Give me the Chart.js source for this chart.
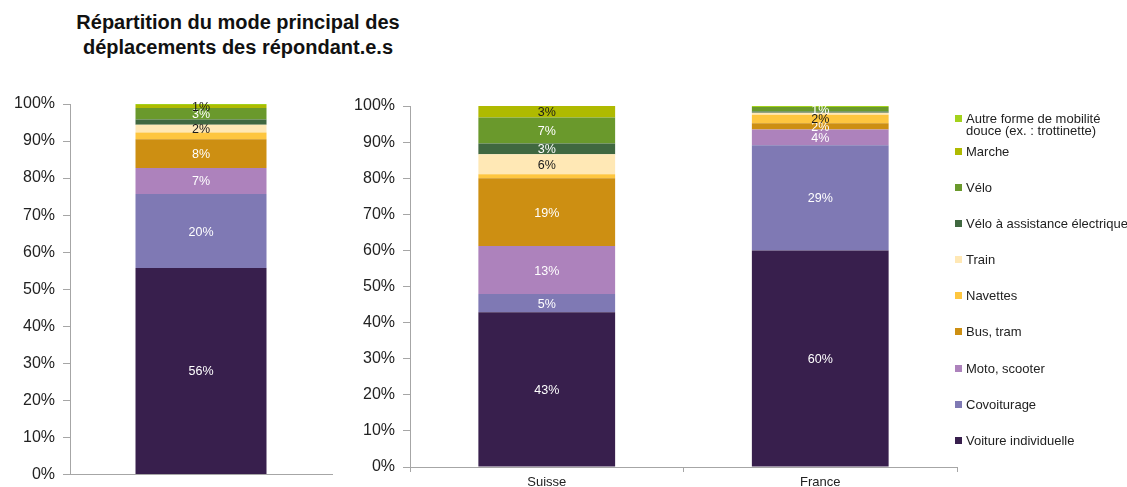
<!DOCTYPE html>
<html>
<head>
<meta charset="utf-8">
<script src="https://cdn.jsdelivr.net/npm/chart.js@4.4.1/dist/chart.umd.min.js"></script>
<style>
  body { margin: 0; background: #fff; width: 1127px; height: 487px; overflow: hidden; position: relative; font-family: "Liberation Sans", Arial, sans-serif; }
  #title { position: absolute; left: 38px; top: 10px; width: 400px; text-align: center; font-weight: bold; font-size: 20px; line-height: 25px; color: #111; }
  #leftWrap { position: absolute; left: 0; top: 0; }
  #rightWrap { position: absolute; left: 340px; top: 0; }
  #legend { position: absolute; left: 955px; top: 0; width: 172px; height: 487px; }
  .item { position: absolute; left: 0; font-size: 13px; line-height: 12px; color: #222; white-space: pre; padding-left: 11px; }
  .item span { position: absolute; left: 0; top: 2px; width: 7px; height: 7px; }
</style>
</head>
<body>
<div id="title">Répartition du mode principal des<br>déplacements des répondant.e.s</div>
<!-- left canvas a bit taller than the window: the y label overflow pad (17.6px) sits below it -->
<div id="leftWrap"><canvas id="leftChart" width="345" height="492"></canvas></div>
<div id="rightWrap"><canvas id="rightChart" width="630" height="487"></canvas></div>
<div id="legend"></div>

<script>
// -------------------- DATA --------------------
// series, stacked from the bottom up
const seriesNames = [
    'Voiture individuelle',
    'Covoiturage',
    'Moto, scooter',
    'Bus, tram',
    'Navettes',
    'Train',
    'Vélo à assistance électrique',
    'Vélo',
    'Marche',
    'Autre forme de mobilité\ndouce (ex. : trottinette)'
];
const seriesColors = ['#381f4d', '#7f79b4', '#ad82bc', '#cd8f12', '#fec63f', '#ffe8b5', '#406840', '#6a992c', '#afba00', '#a3d21c'];
const labelColors = ['#fff', '#fff', '#fff', '#fff', '#1a1a1a', '#1a1a1a', '#fff', '#fff', '#1a1a1a', '#fff'];

// left panel (single bar, no category label)
const leftCategories = [''];
const leftValues = [55.7, 20.0, 7.0, 7.8, 1.8, 2.1, 1.4, 3.1, 0.8, 0.3];
const leftHidden = ['Navettes', 'Vélo à assistance électrique', 'Autre'];

// right panel
const rightCategories = ['Suisse', 'France'];
const voiture   = [42.9, 60.0];
const covoit    = [5.0, 29.1];
const moto      = [13.3, 4.4];
const bus       = [18.8, 1.7];
const navettes  = [1.1, 2.4];
const train     = [5.5, 0.5];
const vae       = [3.0, 0.4];
const velo      = [7.2, 1.2];
const marche    = [3.2, 0.0];
const autre     = [0.0, 0.3];
const rightValues = [voiture, covoit, moto, bus, navettes, train, vae, velo, marche, autre];
// labels not printed on the original, per category
const rightHidden = [['Navettes', 'Autre'], ['Train', 'Vélo à assistance électrique', 'Marche', 'Autre']];

const yTicks = [0, 10, 20, 30, 40, 50, 60, 70, 80, 90, 100];

const FONT = '"Liberation Sans", Arial, sans-serif';
const AXIS = '#a6a6a6';

function isHidden(name, list) {
    return list.some(h => name === h || name.startsWith(h));
}

// -------------------- SEGMENT LABELS --------------------
const segmentLabels = {
    id: 'segmentLabels',
    afterDatasetsDraw(chart, args, opts) {
        const ctx = chart.ctx;
        ctx.save();
        ctx.font = '12.5px ' + FONT;
        ctx.textAlign = 'center';
        ctx.textBaseline = 'middle';
        chart.data.datasets.forEach((ds, i) => {
            chart.getDatasetMeta(i).data.forEach((bar, j) => {
                const v = ds.data[j];
                if (!v || isHidden(seriesNames[i], opts.hidden(j))) return;
                ctx.fillStyle = labelColors[i];
                ctx.fillText(Math.round(v) + '%', bar.x, (bar.y + bar.base) / 2 + 1);
            });
        });
        ctx.restore();
    }
};

function makeDatasets(getData) {
    return seriesNames.map((name, i) => ({
        label: name,
        data: getData(i),
        backgroundColor: seriesColors[i],
        borderWidth: 0,
        barPercentage: 0.5,
        categoryPercentage: 1
    }));
}

function yScale() {
    return {
        stacked: true,
        min: 0, max: 100,
        afterBuildTicks: s => { s.ticks = yTicks.map(v => ({ value: v })); },
        ticks: { callback: v => v + '%', font: { size: 16, family: FONT }, color: '#222', padding: 8 },
        grid: { drawOnChartArea: false, tickLength: 7, color: AXIS },
        border: { color: AXIS },
        afterFit: s => { s.width = 70; }
    };
}

// -------------------- LEFT CHART --------------------
new Chart(document.getElementById('leftChart'), {
    type: 'bar',
    data: { labels: leftCategories, datasets: makeDatasets(i => [leftValues[i]]) },
    options: {
        responsive: false,
        animation: false,
        layout: { padding: { top: 104, right: 13, bottom: 0, left: 0 } },
        plugins: { legend: { display: false }, tooltip: { enabled: false }, segmentLabels: { hidden: () => leftHidden } },
        scales: {
            x: {
                stacked: true,
                grid: { display: false },
                border: { color: AXIS },
                ticks: { display: false },
                afterFit: s => { s.height = 2; }
            },
            y: yScale()
        }
    },
    plugins: [segmentLabels]
});

// -------------------- RIGHT CHART --------------------
new Chart(document.getElementById('rightChart'), {
    type: 'bar',
    data: { labels: rightCategories, datasets: makeDatasets(i => rightValues[i]) },
    options: {
        responsive: false,
        animation: false,
        layout: { padding: { top: 106, right: 13, bottom: 0, left: 0 } },
        plugins: { legend: { display: false }, tooltip: { enabled: false }, segmentLabels: { hidden: j => rightHidden[j] } },
        scales: {
            x: {
                stacked: true,
                grid: { drawOnChartArea: false, tickLength: 5, color: AXIS },
                border: { color: AXIS },
                ticks: { font: { size: 13, family: FONT }, color: '#222', padding: 3 },
                afterFit: s => { s.height = 20; }
            },
            y: yScale()
        }
    },
    plugins: [segmentLabels]
});

// -------------------- LEGEND --------------------
// top item first, as in the original (reverse of stacking order)
const legend = document.getElementById('legend');
const legendTops = [113, 146, 182, 218, 254, 290, 326, 363, 399, 435];
seriesNames.slice().reverse().forEach((name, k) => {
    const idx = seriesNames.length - 1 - k;
    const item = document.createElement('div');
    item.className = 'item';
    item.style.top = legendTops[k] + 'px';
    item.textContent = name;
    const box = document.createElement('span');
    box.style.background = seriesColors[idx];
    item.appendChild(box);
    legend.appendChild(item);
});
</script>
</body>
</html>
